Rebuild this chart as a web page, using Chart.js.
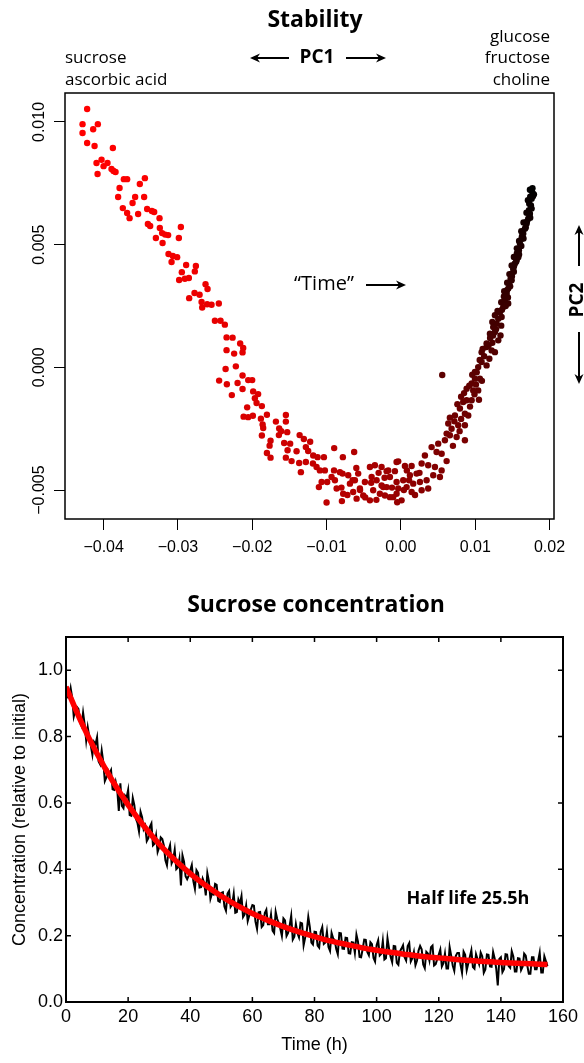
<!DOCTYPE html>
<html>
<head>
<meta charset="utf-8">
<title>Stability / Sucrose concentration</title>
<script src="https://cdn.jsdelivr.net/npm/chart.js@4.4.1/dist/chart.umd.min.js"></script>
<style>
  body { margin: 0; background: #fff; }
  canvas { position: absolute; left: 0; }
  #pcaChart { top: 0; }
  #sucroseChart { top: 585px; }
</style>
</head>
<body>
<canvas id="pcaChart" width="584" height="580"></canvas>
<canvas id="sucroseChart" width="584" height="478"></canvas>
<script>
// PCA scores, in time order (first = red, last = black)
const pcX = [
  // descending arm
  -0.04222, -0.04284, -0.04078, -0.04141, -0.04284, -0.04222, -0.04122, -0.03876, -0.04028, -0.04096,
  -0.03948, -0.04001, -0.03894, -0.03867, -0.03840, -0.04082, -0.03728, -0.03684, -0.03445, -0.03513,
  -0.03786, -0.03805, -0.03576, -0.03455, -0.03611, -0.03742, -0.03415, -0.03351, -0.03320, -0.03684,
  -0.03536, -0.03651, -0.03248, -0.03405, -0.03374, -0.02961, -0.03244, -0.03213, -0.03172, -0.03132,
  -0.03297, -0.02988, -0.03207, -0.03127, -0.03069, -0.03011, -0.03086, -0.02890, -0.02759, -0.02948,
  -0.02773, -0.02907, -0.02853, -0.02984, -0.02629, -0.02602, -0.02777, -0.02709, -0.02849, -0.02682,
  -0.02607, -0.02548, -0.02450, -0.02674, -0.02503, -0.02427, -0.02369, -0.02346, -0.02265, -0.02163,
  -0.02122, -0.02346, -0.02244, -0.02131, -0.02221, -0.02359, -0.02131, -0.02055, -0.02001, -0.02446,
  -0.02198, -0.02342, -0.02131, -0.01988, -0.01921, -0.02275, -0.01965, -0.01942, -0.01871, -0.02069,
  -0.01992, -0.02117, -0.02055, -0.01884, -0.01803, -0.01682, -0.01548, -0.01548, -0.01861, -0.01853,
  -0.01638, -0.01611, -0.01530, -0.01642, -0.01871,
  // bottom of the U
  -0.01803, -0.01767, -0.01754, -0.01754, -0.01571, -0.01548, -0.01525, -0.01490, -0.01471, -0.01404,
  -0.01369, -0.01363, -0.01346, -0.01306, -0.01279, -0.01279, -0.01248, -0.01221, -0.01184, -0.01180,
  -0.01135, -0.01121, -0.01104, -0.01090, -0.01067, -0.01036, -0.01023, -0.01000, -0.00992, -0.00933,
  -0.00900, -0.00898, -0.00888, -0.00865, -0.00821, -0.00800, -0.00794, -0.00785, -0.00781, -0.00777,
  -0.00720, -0.00709, -0.00686, -0.00650, -0.00642, -0.00629, -0.00619, -0.00600, -0.00596, -0.00575,
  -0.00552, -0.00550, -0.00507, -0.00485, -0.00480, -0.00417, -0.00417, -0.00400, -0.00394, -0.00373,
  -0.00350, -0.00330, -0.00327, -0.00300, -0.00283, -0.00260, -0.00260, -0.00238, -0.00220, -0.00215,
  -0.00192, -0.00192, -0.00171, -0.00148, -0.00148, -0.00120, -0.00104, -0.00081, -0.00058, -0.00058,
  -0.00058, -0.00050, -0.00036, -0.00036, 0.00009, 0.00031, 0.00040, 0.00054, 0.00077, 0.00080,
  0.00110, 0.00121, 0.00144, 0.00144, 0.00166, 0.00190, 0.00211, 0.00250, 0.00256, 0.00279,
  0.00279, 0.00346, 0.00367, 0.00367, 0.00435, 0.00458, 0.00525, 0.00548, 0.00615,
  // rising arm
  0.00323, 0.00548, 0.00480, 0.00413, 0.00700, 0.00502, 0.00592, 0.00861, 0.00750, 0.00659,
  0.00615, 0.00790, 0.00682, 0.00771, 0.00861, 0.00637, 0.00720, 0.00810, 0.00659, 0.00727,
  0.00906, 0.00861, 0.00794, 0.00930, 0.00760, 0.00838, 0.00884, 0.00952, 0.01050, 0.00810,
  0.00990, 0.00850, 0.00973, 0.01040, 0.00884, 0.00920, 0.01010, 0.00952, 0.01090, 0.00996,
  0.01063, 0.00556, 0.00960, 0.01020, 0.00996, 0.01040, 0.01153, 0.01086, 0.01060, 0.01190,
  0.01120, 0.01086, 0.01265, 0.01221, 0.01100, 0.01153, 0.01180, 0.01153, 0.01230, 0.01310,
  0.01200, 0.01240, 0.01340, 0.01198, 0.01265, 0.01280, 0.01242, 0.01350, 0.01288, 0.01230,
  0.01310, 0.01355, 0.01265, 0.01332, 0.01300, 0.01360, 0.01377, 0.01410, 0.01444, 0.01350,
  0.01400, 0.01440, 0.01386, 0.01423, 0.01390, 0.01427, 0.01444, 0.01470, 0.01458, 0.01430,
  0.01490, 0.01476, 0.01494, 0.01460, 0.01490, 0.01520, 0.01511, 0.01521, 0.01490, 0.01534,
  0.01550, 0.01557, 0.01579, 0.01520, 0.01590, 0.01561, 0.01588, 0.01560, 0.01620, 0.01602,
  0.01590, 0.01624, 0.01650, 0.01629, 0.01646, 0.01620, 0.01669, 0.01680, 0.01692, 0.01650,
  0.01696, 0.01713, 0.01740, 0.01736, 0.01690, 0.01723, 0.01759, 0.01750, 0.01727, 0.01709,
  0.01759, 0.01740, 0.01777, 0.01790, 0.01773, 0.01760, 0.01736, 0.01770
];
const pcY = [
  0.01053, 0.00991, 0.00991, 0.00970, 0.00955, 0.00914, 0.00902, 0.00894, 0.00846, 0.00833,
  0.00833, 0.00820, 0.00808, 0.00800, 0.00796, 0.00788, 0.00767, 0.00767, 0.00771, 0.00747,
  0.00731, 0.00694, 0.00694, 0.00694, 0.00670, 0.00649, 0.00645, 0.00637, 0.00633, 0.00629,
  0.00625, 0.00608, 0.00608, 0.00584, 0.00576, 0.00572, 0.00568, 0.00547, 0.00541, 0.00539,
  0.00527, 0.00527, 0.00507, 0.00462, 0.00454, 0.00449, 0.00429, 0.00417, 0.00413, 0.00388,
  0.00391, 0.00361, 0.00364, 0.00356, 0.00339, 0.00319, 0.00303, 0.00296, 0.00282, 0.00266,
  0.00257, 0.00255, 0.00260, 0.00244, 0.00190, 0.00190, 0.00174, 0.00122, 0.00121, 0.00097,
  0.00079, 0.00070, 0.00056, 0.00061, 0.00004, -0.00007, -0.00033, -0.00052, -0.00052, -0.00054,
  -0.00064, -0.00069, -0.00088, -0.00098, -0.00109, -0.00113, -0.00126, -0.00145, -0.00158, -0.00163,
  -0.00197, -0.00201, -0.00203, -0.00209, -0.00193, -0.00221, -0.00194, -0.00221, -0.00233, -0.00247,
  -0.00249, -0.00260, -0.00264, -0.00276, -0.00278,
  -0.00349, -0.00319, -0.00299, -0.00368, -0.00308, -0.00368, -0.00338, -0.00311, -0.00382, -0.00342,
  -0.00390, -0.00276, -0.00427, -0.00292, -0.00325, -0.00386, -0.00341, -0.00303, -0.00392, -0.00359,
  -0.00406, -0.00366, -0.00488, -0.00420, -0.00467, -0.00366, -0.00420, -0.00551, -0.00467, -0.00447,
  -0.00420, -0.00329, -0.00460, -0.00494, -0.00427, -0.00490, -0.00545, -0.00433, -0.00366, -0.00515,
  -0.00520, -0.00440, -0.00474, -0.00460, -0.00508, -0.00345, -0.00460, -0.00410, -0.00535, -0.00433,
  -0.00494, -0.00500, -0.00522, -0.00467, -0.00530, -0.00542, -0.00406, -0.00470, -0.00447, -0.00501,
  -0.00399, -0.00540, -0.00460, -0.00430, -0.00515, -0.00406, -0.00481, -0.00488, -0.00450, -0.00522,
  -0.00488, -0.00423, -0.00420, -0.00529, -0.00447, -0.00490, -0.00529, -0.00423, -0.00386, -0.00515,
  -0.00467, -0.00550, -0.00383, -0.00494, -0.00542, -0.00460, -0.00500, -0.00402, -0.00488, -0.00420,
  -0.00460, -0.00440, -0.00402, -0.00508, -0.00474, -0.00520, -0.00433, -0.00430, -0.00467, -0.00501,
  -0.00392, -0.00460, -0.00494, -0.00399, -0.00440, -0.00406, -0.00447, -0.00420, -0.00382,
  -0.00359, -0.00352, -0.00345, -0.00325, -0.00320, -0.00311, -0.00297, -0.00297, -0.00284, -0.00277,
  -0.00270, -0.00260, -0.00250, -0.00236, -0.00236, -0.00229, -0.00220, -0.00210, -0.00205, -0.00196,
  -0.00196, -0.00189, -0.00168, -0.00160, -0.00150, -0.00141, -0.00134, -0.00134, -0.00132, -0.00120,
  -0.00110, -0.00105, -0.00094, -0.00094, -0.00087, -0.00075, -0.00070, -0.00066, -0.00055, -0.00046,
  -0.00046, -0.00031, -0.00030, -0.00020, -0.00019, 0.00001, 0.00008, 0.00022, 0.00030, 0.00035,
  0.00045, 0.00062, 0.00062, 0.00069, 0.00075, 0.00083, 0.00090, 0.00097, 0.00100, 0.00110,
  0.00120, 0.00130, 0.00130, 0.00137, 0.00144, 0.00155, 0.00164, 0.00170, 0.00178, 0.00185,
  0.00198, 0.00205, 0.00212, 0.00225, 0.00230, 0.00235, 0.00246, 0.00250, 0.00260, 0.00265,
  0.00273, 0.00285, 0.00289, 0.00300, 0.00310, 0.00314, 0.00321, 0.00330, 0.00341, 0.00345,
  0.00355, 0.00361, 0.00371, 0.00380, 0.00382, 0.00390, 0.00402, 0.00412, 0.00415, 0.00423,
  0.00430, 0.00436, 0.00449, 0.00450, 0.00460, 0.00465, 0.00477, 0.00485, 0.00495, 0.00504,
  0.00515, 0.00524, 0.00525, 0.00534, 0.00545, 0.00555, 0.00565, 0.00570, 0.00586, 0.00590,
  0.00595, 0.00606, 0.00610, 0.00626, 0.00630, 0.00640, 0.00647, 0.00660, 0.00667, 0.00681,
  0.00687, 0.00695, 0.00697, 0.00705, 0.00710, 0.00720, 0.00724, 0.00730
];
const pcXTickStep = 0.01;
const pcYTickStep = 0.005;

// sucrose relative concentration, one sample every half hour from t = 0
const concStepHours = 0.5;
const concValues = [
  0.955, 0.918, 0.919, 0.946, 0.917, 0.860, 0.879, 0.889, 0.883, 0.843, 0.832, 0.872, 0.837, 0.788, 0.828, 0.799, 0.772, 0.745, 0.784, 0.777,
  0.798, 0.725, 0.716, 0.758, 0.724, 0.666, 0.677, 0.699, 0.689, 0.699, 0.641, 0.639, 0.663, 0.639, 0.576, 0.659, 0.591, 0.584, 0.622, 0.616,
  0.639, 0.563, 0.561, 0.615, 0.593, 0.552, 0.540, 0.514, 0.573, 0.557, 0.521, 0.531, 0.485, 0.494, 0.528, 0.538, 0.472, 0.477, 0.502, 0.452,
  0.466, 0.496, 0.491, 0.472, 0.427, 0.412, 0.457, 0.473, 0.418, 0.429, 0.459, 0.400, 0.405, 0.431, 0.351, 0.442, 0.423, 0.379, 0.370, 0.381,
  0.397, 0.413, 0.364, 0.341, 0.397, 0.389, 0.345, 0.346, 0.372, 0.359, 0.321, 0.388, 0.364, 0.311, 0.327, 0.324, 0.356, 0.353, 0.305, 0.302,
  0.329, 0.331, 0.288, 0.275, 0.327, 0.335, 0.287, 0.294, 0.326, 0.269, 0.271, 0.309, 0.296, 0.319, 0.256, 0.264, 0.291, 0.244, 0.261, 0.279,
  0.292, 0.290, 0.242, 0.220, 0.270, 0.271, 0.226, 0.232, 0.268, 0.278, 0.234, 0.234, 0.264, 0.215, 0.208, 0.272, 0.250, 0.238, 0.221, 0.199,
  0.252, 0.246, 0.199, 0.208, 0.231, 0.260, 0.188, 0.197, 0.235, 0.208, 0.195, 0.239, 0.237, 0.171, 0.194, 0.213, 0.257, 0.226, 0.179, 0.173,
  0.212, 0.211, 0.170, 0.164, 0.212, 0.226, 0.175, 0.179, 0.212, 0.166, 0.154, 0.208, 0.192, 0.186, 0.160, 0.144, 0.208, 0.207, 0.161, 0.160,
  0.194, 0.193, 0.147, 0.146, 0.180, 0.179, 0.148, 0.203, 0.182, 0.136, 0.135, 0.159, 0.188, 0.187, 0.151, 0.141, 0.180, 0.174, 0.133, 0.122,
  0.171, 0.186, 0.140, 0.145, 0.184, 0.128, 0.132, 0.192, 0.161, 0.136, 0.120, 0.169, 0.168, 0.118, 0.112, 0.152, 0.161, 0.171, 0.135, 0.125,
  0.169, 0.178, 0.122, 0.132, 0.151, 0.111, 0.125, 0.155, 0.169, 0.159, 0.113, 0.102, 0.151, 0.146, 0.125, 0.165, 0.170, 0.110, 0.114, 0.129,
  0.143, 0.158, 0.107, 0.117, 0.146, 0.101, 0.101, 0.166, 0.140, 0.110, 0.094, 0.139, 0.148, 0.148, 0.113, 0.088, 0.152, 0.142, 0.096, 0.116,
  0.136, 0.156, 0.105, 0.100, 0.144, 0.129, 0.114, 0.149, 0.138, 0.088, 0.098, 0.143, 0.142, 0.107, 0.106, 0.151, 0.131, 0.101, 0.050, 0.130,
  0.135, 0.090, 0.099, 0.144, 0.143, 0.108, 0.103, 0.153, 0.137, 0.092, 0.092, 0.132, 0.131, 0.096, 0.106, 0.146, 0.140, 0.110, 0.085, 0.085,
  0.135, 0.135, 0.099, 0.099, 0.124, 0.149, 0.089, 0.089, 0.138, 0.123, 0.108
];
// fitted exponential decay (red curve)
const fitHours = [0, 5, 10, 15, 20, 25, 30, 35, 40, 45, 50, 55, 60, 65, 70, 75,
  80, 85, 90, 95, 100, 105, 110, 115, 120, 125, 130, 135, 140, 145, 150, 155];
const fitValues = [0.95, 0.842, 0.748, 0.666, 0.594, 0.531, 0.476, 0.429, 0.387, 0.351,
  0.319, 0.291, 0.267, 0.246, 0.227, 0.211, 0.197, 0.184, 0.174, 0.164,
  0.156, 0.149, 0.143, 0.137, 0.133, 0.129, 0.125, 0.122, 0.119, 0.117, 0.115, 0.113];
const halfLifeText = 'Half life 25.5h';

const sansR = '"Liberation Sans", Arial, sans-serif';
const sansM = '"Open Sans", "Noto Sans", sans-serif';

function fmtMinus(v, digits) {
  if (Math.abs(v) < 1e-12) v = 0;
  return (v < 0 ? '\u2212' : '') + Math.abs(v).toFixed(digits);
}

function arrow(ctx, x1, y1, x2, y2) {
  const ang = Math.atan2(y2 - y1, x2 - x1);
  const head = 10, half = 4.5;
  const c = Math.cos(ang), s = Math.sin(ang);
  ctx.beginPath();
  ctx.moveTo(x1, y1);
  ctx.lineTo(x2 - head * 0.7 * c, y2 - head * 0.7 * s);
  ctx.stroke();
  ctx.beginPath();
  ctx.moveTo(x2, y2);
  ctx.lineTo(x2 - head * c + half * s, y2 - head * s - half * c);
  ctx.lineTo(x2 - head * 0.7 * c, y2 - head * 0.7 * s);
  ctx.lineTo(x2 - head * c - half * s, y2 - head * s + half * c);
  ctx.closePath();
  ctx.fill();
}

// colour ramp red -> black along time order
const pcColors = pcX.map((_, i) => {
  const t = i / (pcX.length - 1);
  const r = Math.round(255 * (1 - Math.pow(t, 1.4)));
  return 'rgb(' + r + ',0,0)';
});

const pcaDeco = {
  id: 'pcaDeco',
  afterDraw(chart) {
    const { ctx, chartArea: a, scales } = chart;
    ctx.save();
    ctx.strokeStyle = '#000';
    ctx.fillStyle = '#000';
    ctx.lineWidth = 1.5;
    ctx.strokeRect(a.left, a.top, a.right - a.left, a.bottom - a.top);

    // y tick labels, rotated like R's axis()
    ctx.font = '16px ' + sansR;
    ctx.textAlign = 'center';
    ctx.textBaseline = 'middle';
    scales.y.ticks.forEach(t => {
      const py = scales.y.getPixelForValue(t.value);
      ctx.save();
      ctx.translate(40, py);
      ctx.rotate(-Math.PI / 2);
      ctx.fillText(fmtMinus(t.value, 3), 0, 0);
      ctx.restore();
    });

    ctx.font = 'bold 23px ' + sansM;
    ctx.fillText('Stability', 315, 20);

    ctx.font = '17px ' + sansM;
    ctx.textAlign = 'left';
    ctx.fillText('sucrose', 65, 58);
    ctx.fillText('ascorbic acid', 65, 80);
    ctx.textAlign = 'right';
    ctx.fillText('glucose', 550, 37);
    ctx.fillText('fructose', 550, 58);
    ctx.fillText('choline', 550, 80);

    ctx.textAlign = 'center';
    ctx.font = 'bold 19px ' + sansM;
    ctx.fillText('PC1', 317, 58);
    ctx.lineWidth = 2;
    arrow(ctx, 289, 58, 250, 58);
    arrow(ctx, 346, 58, 386, 58);

    ctx.font = '20px ' + sansM;
    ctx.fillText('\u201CTime\u201D', 324, 284);
    arrow(ctx, 366, 285, 406, 285);

    ctx.save();
    ctx.translate(578, 300);
    ctx.rotate(-Math.PI / 2);
    ctx.font = 'bold 19px ' + sansM;
    ctx.fillText('PC2', 0, 0);
    ctx.restore();
    arrow(ctx, 579, 266, 579, 225);
    arrow(ctx, 579, 332, 579, 384);
    ctx.restore();
  }
};

new Chart(document.getElementById('pcaChart'), {
  type: 'scatter',
  data: {
    datasets: [{
      data: pcX.map((x, i) => ({ x: x, y: pcY[i] })),
      pointBackgroundColor: pcColors,
      pointBorderWidth: 0,
      pointRadius: 3.2
    }]
  },
  options: {
    responsive: false,
    animation: false,
    devicePixelRatio: 1,
    layout: { padding: { left: 0, right: 30, top: 93, bottom: 0 } },
    plugins: { legend: { display: false }, tooltip: { enabled: false } },
    scales: {
      x: {
        type: 'linear',
        min: -0.0452,
        max: 0.0206,
        afterFit: s => { s.height = 61; },
        border: { display: false },
        grid: { drawOnChartArea: false, drawTicks: true, tickLength: 11, color: '#000', tickColor: '#000' },
        ticks: {
          stepSize: pcXTickStep,
          includeBounds: false,
          padding: 8,
          color: '#000',
          font: { family: sansR, size: 16 },
          callback: v => fmtMinus(v, 2)
        }
      },
      y: {
        type: 'linear',
        min: -0.00618,
        max: 0.01118,
        afterFit: s => { s.width = 65; },
        border: { display: false },
        grid: { drawOnChartArea: false, drawTicks: true, tickLength: 11, color: '#000', tickColor: '#000' },
        ticks: { stepSize: pcYTickStep, includeBounds: false, display: false }
      }
    }
  },
  plugins: [pcaDeco]
});

const sucroseDeco = {
  id: 'sucroseDeco',
  afterDraw(chart) {
    const { ctx, chartArea: a, scales } = chart;
    ctx.save();
    ctx.strokeStyle = '#000';
    ctx.fillStyle = '#000';
    ctx.lineWidth = 2;
    ctx.strokeRect(a.left, a.top, a.right - a.left, a.bottom - a.top);
    // inward ticks on all four sides
    ctx.lineWidth = 1.5;
    ctx.beginPath();
    scales.x.ticks.forEach(t => {
      const px = scales.x.getPixelForValue(t.value);
      ctx.moveTo(px, a.bottom); ctx.lineTo(px, a.bottom - 5);
      ctx.moveTo(px, a.top); ctx.lineTo(px, a.top + 5);
    });
    scales.y.ticks.forEach(t => {
      const py = scales.y.getPixelForValue(t.value);
      ctx.moveTo(a.left, py); ctx.lineTo(a.left + 5, py);
      ctx.moveTo(a.right, py); ctx.lineTo(a.right - 5, py);
    });
    ctx.stroke();

    ctx.textAlign = 'center';
    ctx.textBaseline = 'middle';
    ctx.font = 'bold 23px ' + sansM;
    ctx.fillText('Sucrose concentration', 316, 20);

    ctx.font = 'bold 18px ' + sansM;
    ctx.fillText(halfLifeText, 468, 314);
    ctx.restore();
  }
};

new Chart(document.getElementById('sucroseChart'), {
  type: 'scatter',
  data: {
    datasets: [
      {
        data: fitHours.map((h, i) => ({ x: h, y: fitValues[i] })),
        showLine: true,
        borderColor: '#ff0000',
        borderWidth: 5.5,
        pointRadius: 0,
        cubicInterpolationMode: 'monotone'
      },
      {
        data: concValues.map((v, i) => ({ x: i * concStepHours, y: v })),
        showLine: true,
        borderColor: '#000',
        borderWidth: 2,
        pointRadius: 0,
        tension: 0
      }
    ]
  },
  options: {
    responsive: false,
    animation: false,
    devicePixelRatio: 1,
    layout: { padding: { left: 0, right: 21, top: 52, bottom: 0 } },
    plugins: { legend: { display: false }, tooltip: { enabled: false } },
    scales: {
      x: {
        type: 'linear',
        min: 0,
        max: 160,
        afterFit: s => { s.height = 61; },
        border: { display: false },
        grid: { display: false, drawTicks: false },
        ticks: { stepSize: 20, padding: 4, color: '#000', font: { family: sansR, size: 18 } },
        title: { display: true, text: 'Time (h)', color: '#000', font: { family: sansR, size: 18 }, padding: { top: 0, bottom: 7 } }
      },
      y: {
        type: 'linear',
        min: 0,
        max: 1.1,
        afterFit: s => { s.width = 66; },
        border: { display: false },
        grid: { display: false, drawTicks: false },
        ticks: { stepSize: 0.2, includeBounds: false, padding: 3, color: '#000', font: { family: sansR, size: 18 },
          callback: v => v.toFixed(1) },
        title: { display: true, text: 'Concentration (relative to initial)', color: '#000', font: { family: sansR, size: 18 }, padding: { top: 9, bottom: 0 } }
      }
    }
  },
  plugins: [sucroseDeco]
});
</script>
</body>
</html>
